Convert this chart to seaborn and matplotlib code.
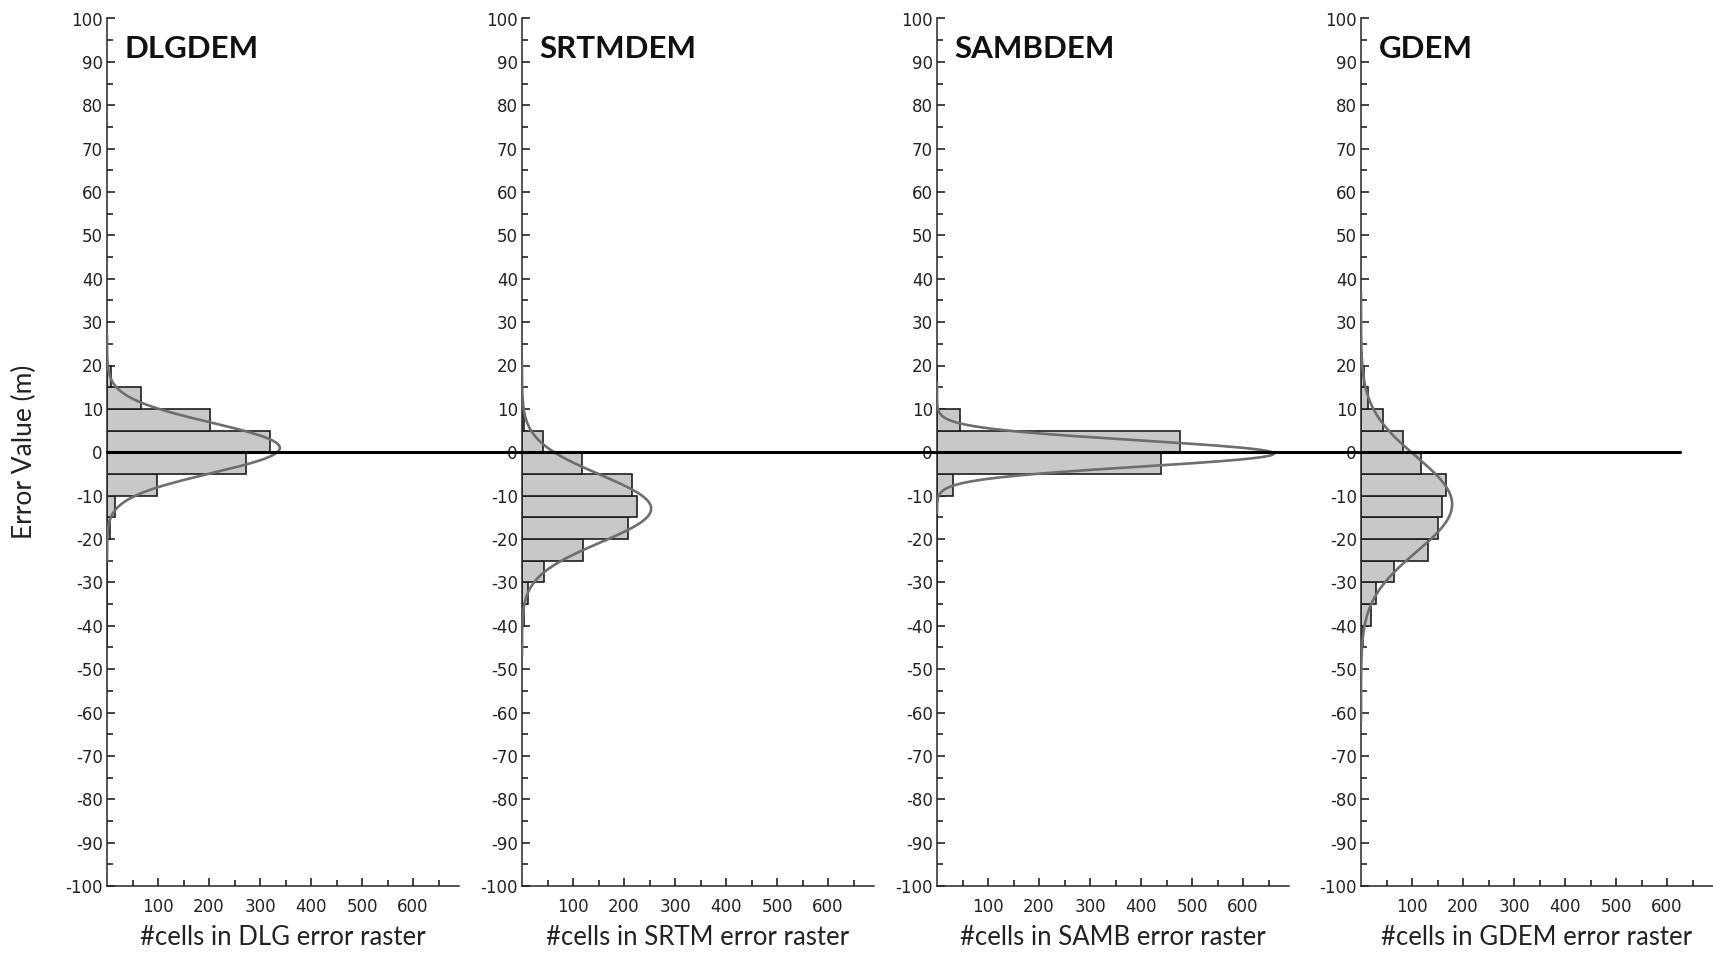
import numpy as np
import pandas as pd
import seaborn as sns
import matplotlib.pyplot as plt
from matplotlib.lines import Line2D
from matplotlib.ticker import MultipleLocator, FixedLocator
from matplotlib.transforms import blended_transform_factory

# ==========================================
# DATA
# ==========================================
dem_titles = ["DLGDEM", "SRTMDEM", "SAMBDEM", "GDEM"]
x_labels = ["#cells in DLG error raster", "#cells in SRTM error raster",
            "#cells in SAMB error raster", "#cells in GDEM error raster"]

# lower edge of each 5 m bin
bin_lo = [15, 10, 5, 0, -5, -10, -15, -20, -25, -30, -35, -40, -45]

dlg_counts = [8, 66, 202, 319, 272, 98, 15, 5, 0, 0, 0, 0, 0]
srtm_counts = [0, 0, 3, 41, 117, 215, 226, 208, 120, 44, 12, 4, 0]
samb_counts = [0, 0, 46, 477, 439, 31, 0, 0, 0, 0, 0, 0, 0]
gdem_counts = [5, 14, 43, 82, 117, 167, 158, 150, 132, 64, 29, 20, 4]

# fitted normal curves
fit_mean = [1.0, -13.0, -0.3, -12.0]
fit_sd = [5.8, 7.8, 3.0, 11.0]
curve_lo = [-25, -47, -14, -62]
curve_hi = [27, 21, 16, 37]

all_counts = [dlg_counts, srtm_counts, samb_counts, gdem_counts]
BIN_W = 5

# ==========================================
# THEME
# ==========================================
sns.set_theme(style="ticks")
plt.rcParams['font.family'] = ['DejaVu Sans']
plt.rcParams['axes.unicode_minus'] = False
plt.rcParams['axes.linewidth'] = 1.1

fig = plt.figure(figsize=(17.13, 9.56), dpi=100)

lefts = [107, 522, 937, 1361]
ax_w = 352 / 1713
bottom = 1 - 886 / 956
height = (886 - 18.5) / 956

axes = []
for i, name in enumerate(dem_titles):
    ax = fig.add_axes([lefts[i] / 1713, bottom, ax_w, height])
    axes.append(ax)

    df = pd.DataFrame({"mid": np.array(bin_lo) + BIN_W / 2, "n": all_counts[i]})
    sns.histplot(data=df, y="mid", weights="n", binwidth=BIN_W, binrange=(-45, 20),
                 color="#c8c8c8", edgecolor="#1e1e1e", linewidth=1.2, alpha=1.0, ax=ax)

    # normal fit scaled to counts
    total = sum(all_counts[i])
    yy = np.linspace(curve_lo[i], curve_hi[i], 400)
    pdf = np.exp(-0.5 * ((yy - fit_mean[i]) / fit_sd[i]) ** 2) / (fit_sd[i] * np.sqrt(2 * np.pi))
    ax.plot(pdf * total * BIN_W, yy, color="#6e6e6e", lw=1.9, zorder=4)

    ax.set_xlim(0, 690)
    ax.set_ylim(-100, 100)
    ax.xaxis.set_major_locator(FixedLocator([100, 200, 300, 400, 500, 600]))
    ax.xaxis.set_minor_locator(FixedLocator([50, 150, 250, 350, 450, 550, 650]))
    ax.yaxis.set_major_locator(MultipleLocator(10))
    ax.yaxis.set_minor_locator(MultipleLocator(5))
    ax.tick_params(which="major", direction="in", length=6, width=1.1,
                   labelsize=12, color="#111111", labelcolor="#222222")
    ax.tick_params(which="minor", direction="in", length=4, width=1.1, color="#111111")
    ax.tick_params(axis="y", pad=3)
    ax.tick_params(axis="x", pad=9)
    sns.despine(ax=ax)

    ax.set_ylabel("")
    ax.set_xlabel(x_labels[i], fontsize=18.5, family="Lato", color="#222222", labelpad=6)
    ax.text(0.05, 0.965, name, transform=ax.transAxes, fontsize=22.5, family="Lato",
            fontweight="bold", va="center", ha="left", color="#111111")

axes[0].set_ylabel("Error Value (m)", fontsize=19, family="Lato", color="#222222")
axes[0].yaxis.set_label_coords(-0.20, 0.5)

# zero reference line running across all panels
trans = blended_transform_factory(fig.transFigure, axes[0].transData)
fig.add_artist(Line2D([107 / 1713, 1680 / 1713], [0, 0], transform=trans,
                      color="black", lw=2.2, zorder=10))

fig.savefig("out.png", dpi=100)
